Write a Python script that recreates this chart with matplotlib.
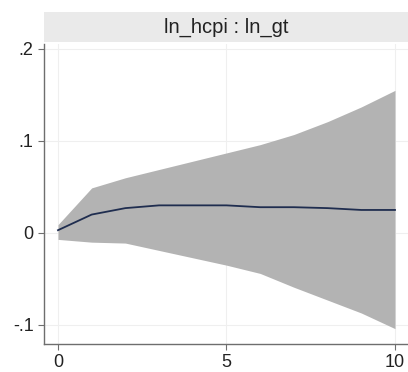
import matplotlib
matplotlib.use("Agg")
import matplotlib.pyplot as plt
from matplotlib.patches import Rectangle
import numpy as np

plt.rcParams['font.family'] = ['Liberation Sans', 'DejaVu Sans']

# impulse response ln_hcpi : ln_gt with confidence band
step = [0, 1, 2, 3, 4, 5, 6, 7, 8, 9, 10]
irf = [0.003, 0.020, 0.027, 0.030, 0.030, 0.030, 0.028, 0.028, 0.027, 0.025, 0.025]
upper = [0.009, 0.049, 0.060, 0.069, 0.078, 0.087, 0.096, 0.107, 0.121, 0.137, 0.155]
lower = [-0.007, -0.010, -0.011, -0.019, -0.027, -0.035, -0.044, -0.059, -0.073, -0.087, -0.104]

yticks = [-0.1, 0, 0.1, 0.2]
ylabels = ['-.1', '0', '.1', '.2']
xticks = [0, 5, 10]

fig = plt.figure(figsize=(4.08, 3.72), dpi=100)
ax = fig.add_axes([44/408, 28/372, 1 - 44/408, 300/372])

ax.fill_between(step, lower, upper, color='#b3b3b3', linewidth=0, zorder=2)
ax.plot(step, irf, color='#1f2d4f', linewidth=1.3, zorder=3)

ax.set_xlim(-0.415, 10.386)
ax.set_ylim(-0.1207, 0.2054)
ax.set_yticks(yticks)
ax.set_yticklabels(ylabels)
ax.set_xticks(xticks)
ax.grid(True, color='#efefef', linewidth=0.8, zorder=0)

for s in ['top', 'right']:
    ax.spines[s].set_visible(False)
for s in ['left', 'bottom']:
    ax.spines[s].set_color('#6e6e6e')
    ax.spines[s].set_linewidth(1.0)
ax.tick_params(colors='#6e6e6e', labelcolor='#222222', labelsize=13, length=4, width=0.8)

# title strip
fig.patches.append(Rectangle((44/408, 330/372), 1 - 44/408, 30/372,
                             transform=fig.transFigure, facecolor='#eaeaea',
                             edgecolor='none'))
fig.text((44 + 408) / 2 / 408, 345/372, 'ln_hcpi : ln_gt', ha='center', va='center',
         fontsize=14.5, color='#222222')

fig.savefig('out.png', dpi=100)
